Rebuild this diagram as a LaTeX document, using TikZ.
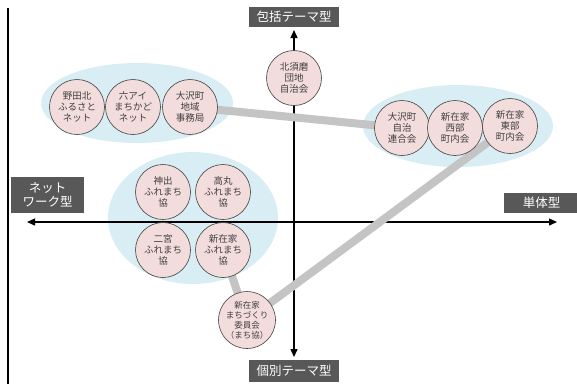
\documentclass[tikz,border=0pt]{standalone}
\usepackage{fontspec}
\setmainfont{Noto Sans CJK JP}
\usetikzlibrary{arrows.meta}
\definecolor{ellfill}{HTML}{D9EDF4}
\definecolor{cirfill}{HTML}{F3DCDC}
\definecolor{labfill}{HTML}{585858}
\definecolor{linkgray}{HTML}{C4C4C4}
\definecolor{txt}{HTML}{404040}
\tikzset{
  org/.style={circle, draw=black!75, line width=0.6pt, fill=cirfill, minimum size=55pt, inner sep=0pt, align=center, font=\fontsize{9.5}{11}\selectfont, text=txt},
  group/.style={ellipse, fill=ellfill, draw=none},
  axislabel/.style={fill=labfill, text=white, font=\fontsize{12.5}{14}\selectfont, inner sep=0pt, align=center},
  axisline/.style={line width=1.3pt, -{Triangle[length=8pt,width=7pt]}},
  link/.style={line width=8pt, linkgray}
}
\begin{document}
\begin{tikzpicture}[x=1pt,y=-1pt]
\useasboundingbox (0,0) rectangle (577,384);
% left border line
\draw[line width=2.2pt] (8,8) -- (8,384);
% group ellipses
\fill[ellfill] (137,103) ellipse [x radius=96, y radius=40];
\fill[ellfill] (458,126) ellipse [x radius=95, y radius=41];
\fill[ellfill] (193,218) ellipse [x radius=85, y radius=66];
% axes
\coordinate (ctop) at (294,30);
\coordinate (cbot) at (294,357);
\coordinate (cleft) at (27,222);
\coordinate (cright) at (557,222);
\coordinate (cmid) at (294,222);
\draw[axisline] (cmid) -- (ctop);
\draw[axisline] (cmid) -- (cbot);
\draw[axisline] (cmid) -- (cleft);
\draw[axisline] (cmid) -- (cright);
% labels
\node[axislabel, minimum width=90pt, minimum height=20pt] (lt) at (294,17) {包括テーマ型};
\node[axislabel, minimum width=90pt, minimum height=22pt] (lb) at (294,371) {個別テーマ型};
\node[axislabel, minimum width=73pt, minimum height=36pt] (ll) at (47.5,195) {ネット\\ワーク型};
\node[axislabel, minimum width=75pt, minimum height=20pt, anchor=west] (lr) at (504,203) {単体型};
% coordinates of organisations
\coordinate (pa) at (77,107);
\coordinate (pb) at (133,107);
\coordinate (pc) at (190,107);
\coordinate (pd) at (294,78);
\coordinate (pe) at (402,128);
\coordinate (pf) at (455,128);
\coordinate (pg) at (510,126);
\coordinate (ph) at (163,192);
\coordinate (pi) at (223,192);
\coordinate (pj) at (163,250);
\coordinate (pk) at (223,250);
\coordinate (pm) at (247,320);
% links
\draw[link] (pc) -- (pe);
\draw[link] (pg) -- (pm);
\draw[link] (pk) -- (pm);
% organisations
\node[org] (a) at (pa) {野田北\\ふるさと\\ネット};
\node[org] (b) at (pb) {六アイ\\まちかど\\ネット};
\node[org] (c) at (pc) {大沢町\\地域\\事務局};
\node[org] (d) at (pd) {北須磨\\団地\\自治会};
\node[org] (e) at (pe) {大沢町\\自治\\連合会};
\node[org] (f) at (pf) {新在家\\西部\\町内会};
\node[org] (g) at (pg) {新在家\\東部\\町内会};
\node[org] (h) at (ph) {神出\\ふれまち\\協};
\node[org] (i) at (pi) {高丸\\ふれまち\\協};
\node[org] (j) at (pj) {二宮\\ふれまち\\協};
\node[org] (k) at (pk) {新在家\\ふれまち\\協};
\node[org, font=\fontsize{8.5}{10}\selectfont] (m) at (pm) {新在家\\まちづくり\\委員会\\（まち協）};
\end{tikzpicture}
\end{document}
